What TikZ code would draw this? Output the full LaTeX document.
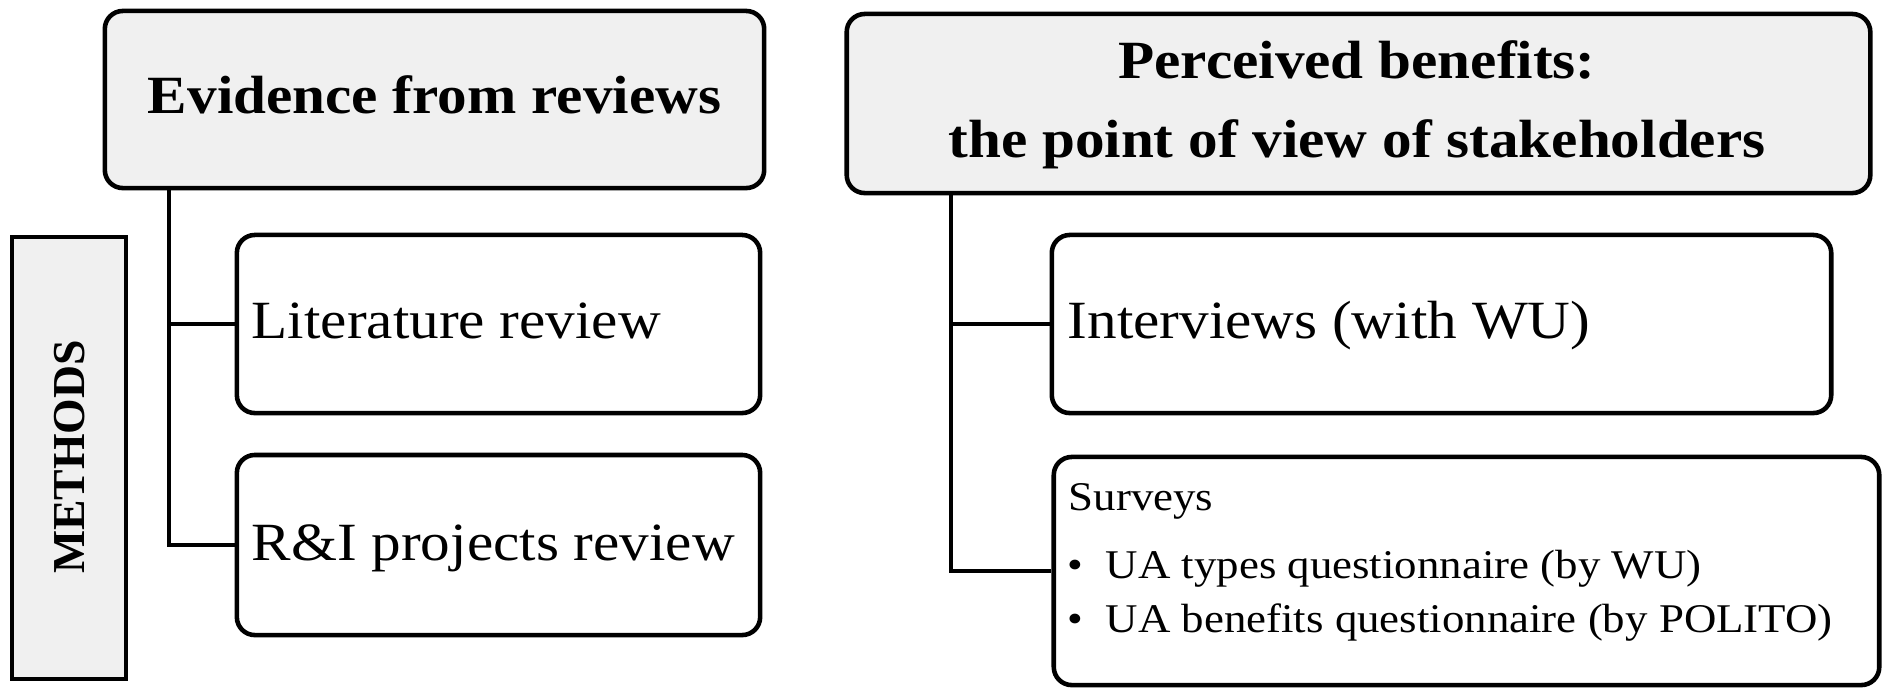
\documentclass[tikz,border=0pt]{standalone}
\usepackage{fontspec}
\setmainfont{Liberation Serif}[FakeStretch=1.1]
\newfontfamily\methfont{Liberation Serif}
\definecolor{boxgray}{HTML}{F0F0F0}
\tikzset{
  box/.style={draw, line width=1.3pt, rounded corners=0.18cm, inner sep=0pt},
  graybox/.style={box, fill=boxgray},
  conn/.style={draw, line width=1.3pt},
  bigtxt/.style={inner sep=0pt, font=\fontsize{15.3}{18}\selectfont},
  bigbold/.style={inner sep=0pt, font=\fontsize{15.3}{18}\selectfont\bfseries},
  smalltxt/.style={inner sep=0pt, font=\fontsize{11.6}{14}\selectfont, anchor=base west},
}
\begin{document}
\begin{tikzpicture}[x=0.01cm, y=-0.01cm]
\path[fill=white] (0,0) rectangle (1886,690);
\useasboundingbox (0,0) rectangle (1886,690);

% left column
\node[graybox, minimum width=6.59cm, minimum height=1.77cm] (A) at (434.5,99.5) {};
\node[box, minimum width=5.23cm, minimum height=1.78cm] (B) at (498.5,324) {};
\node[box, minimum width=5.23cm, minimum height=1.80cm] (C) at (498.5,545) {};
\node[draw, line width=1.3pt, fill=boxgray, minimum width=1.14cm, minimum height=4.42cm, inner sep=0pt] (M) at (69,458) {};

\node[bigbold, anchor=base] (tA) at (434.5,113) {Evidence from reviews};
\node[bigtxt, anchor=base west] (tB) at (251,338) {Literature review};
\node[bigtxt, anchor=base west] (tC) at (251,560) {R\&I projects review};
\node[inner sep=0pt, rotate=90, font=\methfont\fontsize{13}{15}\selectfont\bfseries] (tM) at (70,457) {METHODS};

\coordinate (tL) at (169,0);
\draw[conn] (tL |- A.south) |- (C.west);
\draw[conn] (tL |- B.west) -- (B.west);

% right column
\node[graybox, minimum width=10.23cm, minimum height=1.79cm] (D) at (1358.5,103.5) {};
\node[box, minimum width=7.79cm, minimum height=1.78cm] (E) at (1441.5,324) {};
\node[box, minimum width=8.25cm, minimum height=2.28cm] (F) at (1466.5,571) {};

\node[bigbold, anchor=base] (tD1) at (1357,78) {Perceived benefits:};
\node[bigbold, anchor=base] (tD2) at (1357,157) {the point of view of stakeholders};
\node[bigtxt, anchor=base west] (tE) at (1067,338) {Interviews (with WU)};
\node[smalltxt] (tF0) at (1068,510) {Surveys};
\node[smalltxt] (tF1) at (1067,578) {\makebox[0.38cm][l]{\textbullet}UA types questionnaire (by WU)};
\node[smalltxt] (tF2) at (1067,632) {\makebox[0.38cm][l]{\textbullet}UA benefits questionnaire (by POLITO)};

\coordinate (tR) at (951,0);
\draw[conn] (tR |- D.south) |- (F.west);
\draw[conn] (tR |- E.west) -- (E.west);
\end{tikzpicture}
\end{document}
